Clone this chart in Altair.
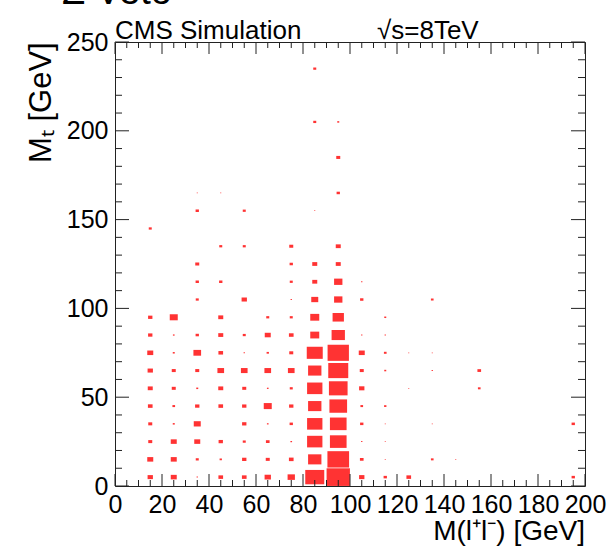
import altair as alt
import pandas as pd

# Bin lower edges (GeV) and bin contents (relative units, full bin = 70.5)
mll_low = [
    10, 10, 10, 10, 10, 10, 10, 10, 10, 10, 10,
    20, 20, 20, 20, 20, 20, 20, 20, 20, 20,
    30, 30, 30, 30, 30, 30, 30, 30, 30, 30, 30, 30, 30, 30,
    40, 40, 40, 40, 40, 40, 40, 40, 40, 40, 40, 40,
    50, 50, 50, 50, 50, 50, 50, 50, 50, 50, 50, 50,
    60, 60, 60, 60, 60, 60, 60, 60, 60, 60,
    70, 70, 70, 70, 70, 70, 70, 70, 70, 70, 70, 70, 70, 70,
    80, 80, 80, 80, 80, 80, 80, 80, 80, 80, 80, 80, 80, 80, 80, 80,
    90, 90, 90, 90, 90, 90, 90, 90, 90, 90, 90, 90, 90, 90, 90, 90, 90,
    100, 100, 100, 100, 100, 100, 100, 100, 100, 100, 100,
    110, 110, 110, 110, 110, 110, 110, 110, 110,
    120, 120, 120,
    130, 130, 130, 130, 130,
    140,
    150, 150,
    190, 190,
]
mt_low = [
    0, 10, 20, 30, 40, 50, 60, 70, 80, 90, 140,
    0, 10, 20, 30, 40, 50, 60, 70, 80, 90,
    0, 10, 20, 30, 40, 50, 60, 70, 80, 100, 110, 120, 150, 160,
    0, 10, 20, 40, 50, 60, 70, 80, 90, 110, 130, 160,
    0, 10, 20, 30, 40, 50, 60, 70, 80, 100, 130, 150,
    0, 10, 20, 30, 40, 50, 60, 70, 80, 90,
    0, 10, 20, 30, 40, 50, 60, 70, 80, 90, 100, 110, 120, 130,
    0, 10, 20, 30, 40, 50, 60, 70, 80, 90, 100, 110, 120, 150, 200, 230,
    0, 10, 20, 30, 40, 50, 60, 70, 80, 90, 100, 110, 120, 130, 160, 180, 200,
    0, 10, 20, 30, 40, 50, 60, 70, 80, 100, 110,
    0, 10, 20, 30, 40, 60, 70, 80, 90,
    0, 50, 70,
    10, 30, 60, 70, 100,
    10,
    50, 60,
    0, 30,
]
content = [
    16, 18, 12, 12, 14, 15, 16, 18, 13, 13, 9,
    18, 18, 18, 6, 8, 12, 12, 6, 5, 24,
    4, 9, 18, 21, 13, 6, 12, 23, 10, 9, 10, 12, 10, 3,
    14, 7, 13, 14, 15, 20, 14, 15, 15, 10, 9, 3,
    14, 13, 9, 13, 13, 12, 20, 4, 9, 16, 9, 9,
    19, 12, 11, 5, 24, 5, 20, 7, 18, 9,
    22, 14, 5, 10, 13, 9, 20, 12, 14, 9, 4, 9, 10, 12,
    57, 40, 46, 46, 40, 46, 40, 48, 27, 27, 21, 15, 15, 3, 9, 9,
    70, 65, 50, 50, 53, 56, 60, 64, 40, 34, 25, 25, 15, 15, 10, 12, 6,
    16, 11, 4, 10, 8, 16, 12, 18, 4, 10, 4,
    10, 3, 3, 3, 7, 6, 8, 4, 6,
    14, 3, 3,
    8, 3, 4, 3, 8,
    3,
    8, 11,
    10, 10,
]

x_label_values = [0, 20, 40, 60, 80, 100, 120, 140, 160, 180, 200]
y_label_values = [0, 50, 100, 150, 200, 250]
x_major = [0, 20, 40, 60, 80, 100, 120, 140, 160, 180, 200]
x_minor = [v for v in range(0, 201, 5) if v % 20 != 0]
y_major = [0, 50, 100, 150, 200, 250]
y_minor = [v for v in range(0, 251, 10) if v % 50 != 0]

W, H = 470, 444
FONT = "Liberation Sans"
TICK = "#222222"

df = pd.DataFrame({"mll": mll_low, "mt": mt_low, "n": content})

xs = alt.Scale(domain=[0, 200], nice=False, zero=False)
ys = alt.Scale(domain=[0, 250], nice=False, zero=False)

x_axis = alt.Axis(
    values=x_label_values, ticks=False, domain=False, grid=False,
    labelFontSize=25, labelFont=FONT, labelColor="black",
    labelPadding=6, labelFlush=False, labelOverlap=False,
    title=None, format="d")
y_axis = alt.Axis(
    values=y_label_values, ticks=False, domain=False, grid=False,
    labelFontSize=25, labelFont=FONT, labelColor="black",
    labelPadding=7, labelFlush=False, labelOverlap=False,
    title=None, format="d")

boxes = alt.Chart(df).transform_calculate(
    x0="datum.mll + 5 - 5 * datum.n / 70.5",
    x1="datum.mll + 5 + 5 * datum.n / 70.5",
    y0="datum.mt + 5 - 5 * datum.n / 70.5",
    y1="datum.mt + 5 + 5 * datum.n / 70.5",
).mark_rect(color="#ff3333").encode(
    x=alt.X("x0:Q", scale=xs, axis=x_axis),
    x2="x1:Q",
    y=alt.Y("y0:Q", scale=ys, axis=y_axis),
    y2="y1:Q",
)


def xticks(vals, y_from, y_to):
    return alt.Chart(pd.DataFrame({"v": vals})).mark_rule(
        color=TICK, strokeWidth=1).encode(
        x=alt.X("v:Q", scale=xs, axis=x_axis),
        y=alt.value(y_from), y2=alt.value(y_to))


def yticks(vals, x_from, x_to):
    return alt.Chart(pd.DataFrame({"v": vals})).mark_rule(
        color=TICK, strokeWidth=1).encode(
        y=alt.Y("v:Q", scale=ys, axis=y_axis),
        x=alt.value(x_from), x2=alt.value(x_to))


ticks = [
    xticks(x_major, H, H - 12), xticks(x_minor, H, H - 6),
    xticks(x_major, 0, 12), xticks(x_minor, 0, 6),
    yticks(y_major, 0, 14), yticks(y_minor, 0, 7),
    yticks(y_major, W, W - 14), yticks(y_minor, W, W - 7),
]


def label(txt, x, y, size, align="left", angle=0, baseline="alphabetic"):
    return alt.Chart(pd.DataFrame({"t": [txt]})).mark_text(
        font=FONT, fontSize=size, align=align, baseline=baseline,
        angle=angle, color="black").encode(
        text="t:N", x=alt.value(x), y=alt.value(y))


texts = [
    label("Z Veto", -53, -38, 38),
    label("CMS Simulation", 0, -3, 26),
    label("\u221as=8TeV", 262, -3, 26),
    label("M(l\u207al\u207b) [GeV]", 470, H + 54, 28, align="right"),
    label("M\u209c [GeV]", -64, 121, 31, angle=270),
]

chart = alt.layer(boxes, *ticks, *texts).properties(
    width=W, height=H,
    autosize=alt.AutoSizeParams(type="none"),
    padding={"left": 115, "top": 42, "right": 30, "bottom": 66},
).configure_view(stroke="#222222", strokeWidth=1)

chart.save("out.html", embed_options={"renderer": "svg", "actions": False})
